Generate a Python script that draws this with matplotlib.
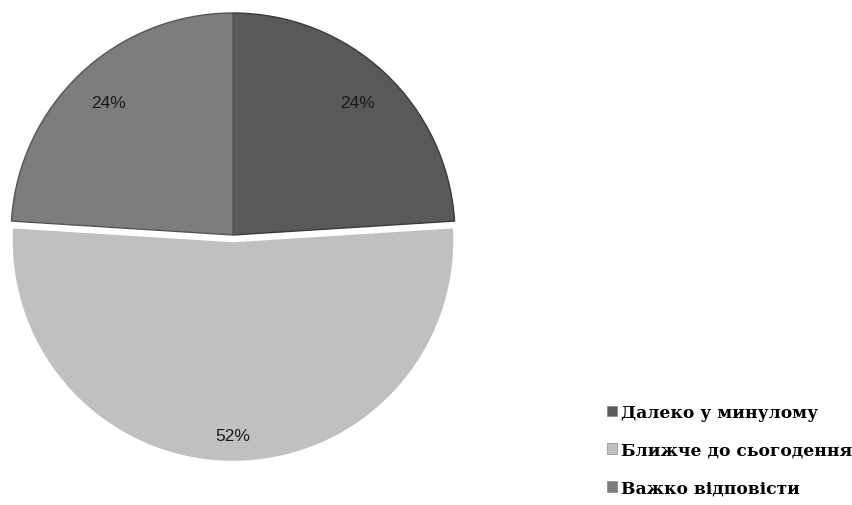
import matplotlib
matplotlib.use("Agg")
import matplotlib.pyplot as plt
from matplotlib.patches import Patch

categories = ["Далеко у минулому", "Ближче до сьогодення", "Важко відповісти"]
values = [24, 52, 24]
colors = ["#595959", "#c0c0c0", "#7d7d7d"]
explode = [0, 0.025, 0]

fig = plt.figure(figsize=(8.52, 5.06), dpi=100)
ax = fig.add_axes([11/852, 48/506, 444/852, 444/506])

wedges, texts, autotexts = ax.pie(
    values, colors=colors, startangle=90, counterclock=False,
    explode=explode, autopct=lambda p: f"{p:.0f}%", pctdistance=0.82,
    radius=1.0, textprops=dict(family="Liberation Sans", fontsize=12.5, color="#1a1a1a"),
    wedgeprops=dict(linewidth=1.0))
edgecols = ["#3a3a3a", "#ffffff", "#555555"]
for w, ec in zip(wedges, edgecols):
    w.set_edgecolor(ec)
wedges[1].set_linewidth(2.5)
# push the large slice label slightly further out, as in the reference
x, y = autotexts[1].get_position()
autotexts[1].set_position((x * 1.07, y * 1.07))
ax.set_xlim(-1.0, 1.0)
ax.set_ylim(-1.0, 1.0)
ax.set_aspect("equal")
ax.axis("off")

handles = [Patch(facecolor=c, edgecolor="#888888", linewidth=0.5) for c in colors]
fig.legend(handles, categories, loc="lower left",
           bbox_to_anchor=(592/852, -7/506), frameon=False,
           prop=dict(family="DejaVu Serif", size=12.3, weight="bold"),
           handlelength=0.57, handleheight=0.57, handletextpad=0.25,
           labelspacing=1.22)

fig.savefig("out.png", dpi=100, facecolor="white")
